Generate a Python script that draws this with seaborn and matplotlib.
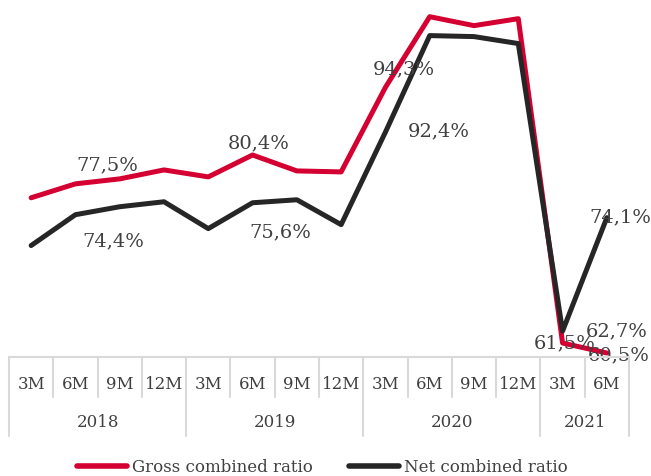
import matplotlib
matplotlib.use("Agg")
import matplotlib.pyplot as plt
from matplotlib.lines import Line2D
import seaborn as sns
import pandas as pd

months = ["3M", "6M", "9M", "12M", "3M", "6M", "9M", "12M", "3M", "6M", "9M", "12M", "3M", "6M"]
years = ["2018"] * 4 + ["2019"] * 4 + ["2020"] * 4 + ["2021"] * 2
gross = [76.1, 77.5, 78.0, 78.9, 78.2, 80.4, 78.8, 78.7, 87.2, 94.3, 93.4, 94.1, 61.5, 60.5]
net = [71.3, 74.4, 75.2, 75.7, 73.0, 75.6, 75.9, 73.4, 82.7, 92.4, 92.3, 91.6, 62.7, 74.1]
series_names = ["Gross combined ratio", "Net combined ratio"]
labelled = {  # series -> list of (index, dx px, dy px)
    "Gross combined ratio": [(1, 32, 19), (5, 6, 13), (9, -26, -52), (12, 2, 1), (13, 12, -1)],
    "Net combined ratio": [(1, 38, -26), (5, 28, -29), (9, 9, -95), (12, 54, 1), (13, 13, 1)],
}

sns.set_style("white")
plt.rcParams["font.family"] = ["DejaVu Serif"]
lab_fs = 14
tick_fs = 12

W, H = 651, 477
fig = plt.figure(figsize=(W / 100, H / 100), dpi=100)

def fx(px):
    return px / W

def fy(py):
    return 1 - py / H

left, right, top, bottom = 9, 629, 10, 358
ax = fig.add_axes([fx(left), fy(bottom), fx(right) - fx(left), fy(top) - fy(bottom)])

n = len(months)
df = pd.DataFrame({
    "x": list(range(n)) * 2,
    "value": gross + net,
    "series": [series_names[0]] * n + [series_names[1]] * n,
})
palette = {series_names[0]: "#D50032", series_names[1]: "#262626"}
sns.lineplot(data=df, x="x", y="value", hue="series", palette=palette, linewidth=3.6,
             ax=ax, legend=False, sort=False)

scale = 9.95  # px per percentage point
ref_v, ref_y = 60.5, 354
ax.set_xlim(-0.5, n - 0.5)
ax.set_ylim(ref_v - (bottom - ref_y) / scale, ref_v + (ref_y - top) / scale)
ax.axis("off")

text_color = "#404040"
vals = {series_names[0]: gross, series_names[1]: net}
for s, items in labelled.items():
    for i, dx, dy in items:
        v = vals[s][i]
        ax.annotate(f"{v:.1f}%".replace(".", ","), (i, v), xytext=(dx, dy),
                    textcoords="offset pixels", ha="center", va="center",
                    fontsize=lab_fs, color=text_color, annotation_clip=False)

# category table
grid_color = "#D9D9D9"
cw = (right - left) / n
row1_bottom, row2_bottom = 398, 437
fig.add_artist(Line2D([fx(left), fx(right)], [fy(bottom), fy(bottom)], color=grid_color, lw=1.5))
for i in range(n + 1):
    xb = left + i * cw
    full = i == 0 or i == n or years[i] != years[i - 1]
    yb = row2_bottom if full else row1_bottom
    fig.add_artist(Line2D([fx(xb), fx(xb)], [fy(bottom), fy(yb)], color=grid_color, lw=1.5))
for i, m in enumerate(months):
    fig.text(fx(left + (i + 0.5) * cw), fy(385), m, ha="center", va="center",
             fontsize=tick_fs, color=text_color)
start = 0
for i in range(1, n + 1):
    if i == n or years[i] != years[start]:
        xc = left + (start + i) / 2 * cw
        fig.text(fx(xc), fy(423), years[start], ha="center", va="center",
                 fontsize=tick_fs, color=text_color)
        start = i

handles = [Line2D([], [], color=palette[s], lw=4, solid_capstyle="round") for s in series_names]
fig.legend(handles, series_names, loc="center", bbox_to_anchor=(0.495, fy(468)), ncol=2,
           frameon=False, fontsize=tick_fs, handlelength=3.0, handletextpad=0.3,
           columnspacing=2.2, labelcolor=text_color)

fig.savefig("out.png", dpi=100)
